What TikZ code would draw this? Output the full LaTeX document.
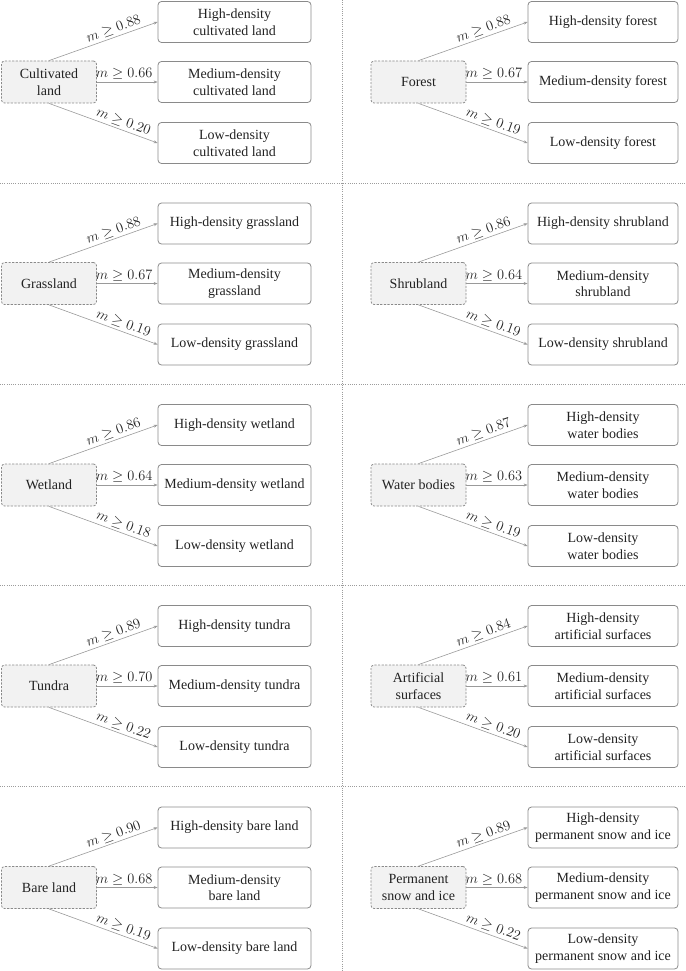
\documentclass[tikz,border=0pt]{standalone}
\usepackage{fontspec}
\setmainfont{Liberation Serif}
\usetikzlibrary{arrows.meta}
\definecolor{boxline}{HTML}{8A8A8A}
\definecolor{edgeline}{HTML}{9A9A9A}
\definecolor{srcfill}{HTML}{F2F2F2}
\definecolor{divline}{HTML}{9C9C9C}
\definecolor{txt}{HTML}{222222}
\tikzset{
  srcbox/.style={draw=boxline, dash pattern=on 2.2pt off 1.4pt, fill=srcfill, rounded corners=3pt,
    line width=0.8pt, minimum width=95pt, minimum height=42pt, align=center, inner sep=1pt,
    font=\fontsize{14}{16.5}\selectfont, text=txt},
  tgtbox/.style={draw=boxline, rounded corners=3.5pt, line width=0.8pt, minimum height=41pt,
    align=center, inner sep=1pt, font=\fontsize{14}{16.5}\selectfont, text=txt},
  edgearrow/.style={draw=edgeline, line width=0.6pt, -{Stealth[length=4pt,width=3pt]}},
  lab/.style={font=\fontsize{14}{16}\selectfont, text=txt, inner sep=2pt},
  divider/.style={draw=divline, line width=0.7pt, dash pattern=on 1pt off 1.2pt}
}
\begin{document}
\begin{tikzpicture}[x=1pt,y=-1pt]
\useasboundingbox (0,0) rectangle (685,971);
% dividers
\coordinate (vt) at (342,0); \coordinate (vb) at (342,971);
\draw[divider] (vt) -- (vb);
\foreach \yy [count=\k] in {183,384.5,585.5,786}{
  \coordinate (hl\k) at (0,\yy); \coordinate (hr\k) at (685,\yy);
  \draw[divider] (hl\k) -- (hr\k);
}
\foreach \id/\sx/\tx/\tw/\yc/\src/\hi/\me/\lo/\va/\vb/\vc in {
  a/49/234.5/153/82/{Cultivated\\land}/{High-density\\cultivated land}/{Medium-density\\cultivated land}/{Low-density\\cultivated land}/0.88/0.66/0.20,
  b/418.5/603/150/82/{Forest}/{High-density forest}/{Medium-density forest}/{Low-density forest}/0.88/0.67/0.19,
  c/49/234.5/153/283.5/{Grassland}/{High-density grassland}/{Medium-density\\grassland}/{Low-density grassland}/0.88/0.67/0.19,
  d/418.5/603/150/283.5/{Shrubland}/{High-density shrubland}/{Medium-density\\shrubland}/{Low-density shrubland}/0.86/0.64/0.19,
  e/49/234.5/153/485/{Wetland}/{High-density wetland}/{Medium-density wetland}/{Low-density wetland}/0.86/0.64/0.18,
  f/418.5/603/150/485/{Water bodies}/{High-density\\water bodies}/{Medium-density\\water bodies}/{Low-density\\water bodies}/0.87/0.63/0.19,
  g/49/234.5/153/686/{Tundra}/{High-density tundra}/{Medium-density tundra}/{Low-density tundra}/0.89/0.70/0.22,
  h/418.5/603/150/686/{Artificial\\surfaces}/{High-density\\artificial surfaces}/{Medium-density\\artificial surfaces}/{Low-density\\artificial surfaces}/0.84/0.61/0.20,
  i/49/234.5/153/887.5/{Bare land}/{High-density bare land}/{Medium-density\\bare land}/{Low-density bare land}/0.90/0.68/0.19,
  j/418.5/603/150/887.5/{Permanent\\snow and ice}/{High-density\\permanent snow and ice}/{Medium-density\\permanent snow and ice}/{Low-density\\permanent snow and ice}/0.89/0.68/0.22}{
  \node[srcbox] (s\id) at (\sx,\yc) {\src};
  \node[tgtbox, minimum width=\tw pt] (h\id) at (\tx,{\yc-60}) {\hi};
  \node[tgtbox, minimum width=\tw pt] (m\id) at (\tx,\yc) {\me};
  \node[tgtbox, minimum width=\tw pt] (l\id) at (\tx,{\yc+61}) {\lo};
  \draw[edgearrow] (s\id.north) -- node[lab, pos=0.62, above, sloped] {$m \geq \va$} (h\id.west);
  \draw[edgearrow] (s\id.east) -- node[lab, pos=0.45, above] {$m \geq \vb$} (m\id.west);
  \draw[edgearrow] (s\id.south) -- node[lab, pos=0.66, above, sloped] {$m \geq \vc$} (l\id.west);
}
\end{tikzpicture}
\end{document}
